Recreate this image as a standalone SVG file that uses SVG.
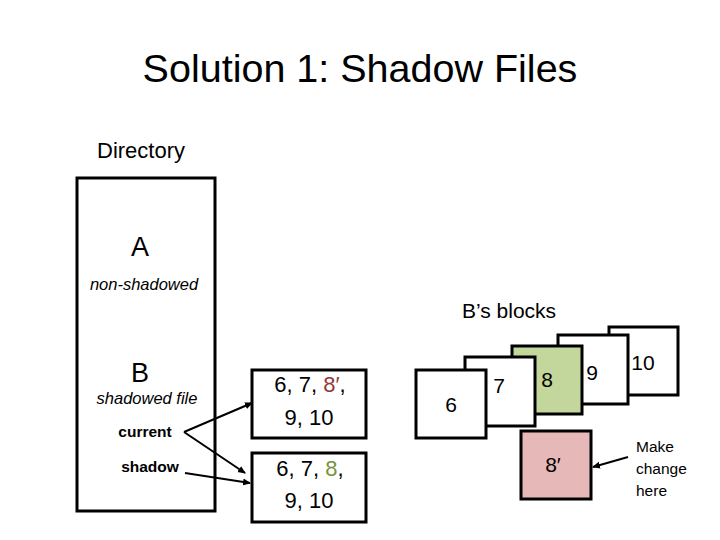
<svg xmlns="http://www.w3.org/2000/svg" width="720" height="540" viewBox="0 0 720 540">
<style>
text{font-family:"Liberation Sans",Arial,sans-serif;fill:#000}
.box{fill:#fff;stroke:#000;stroke-width:3}
.c{text-anchor:middle}
.it{font-style:italic;font-size:16.5px}
.bd{font-weight:bold;font-size:15.5px}
.lbl{font-size:22px}
.blk{font-size:21px;text-anchor:middle}
.nt{font-size:15.5px}
.ln{stroke:#000;stroke-width:2;fill:none;marker-end:url(#ah)}
</style>
<defs>
<marker id="ah" markerWidth="8" markerHeight="8" refX="7" refY="4" orient="auto" markerUnits="userSpaceOnUse">
<path d="M0,0.5 L8,4 L0,7.5 z" fill="#000"/>
</marker>
</defs>
<rect width="720" height="540" fill="#fff"/>
<text x="360" y="82" class="c" font-size="39.5">Solution 1: Shadow Files</text>
<g id="directory">
<text x="97" y="158" font-size="22">Directory</text>
<rect class="box" x="77" y="178" width="138" height="333"/>
<text x="140" y="256" class="c" font-size="27">A</text>
<text x="144" y="290" class="c it">non-shadowed</text>
<text x="140" y="382" class="c" font-size="27">B</text>
<text x="147" y="404" class="c it">shadowed file</text>
<text x="145" y="437" class="c bd">current</text>
<text x="150" y="472" class="c bd">shadow</text>
</g>
<g id="current-list">
<rect class="box" x="252" y="370" width="114" height="68"/>
<text x="310" y="392" class="c lbl">6, 7, <tspan fill="#953735">8′</tspan>,</text>
<text x="309" y="425" class="c lbl">9, 10</text>
</g>
<g id="shadow-list">
<rect class="box" x="252" y="453" width="114" height="69"/>
<text x="310" y="476" class="c lbl">6, 7, <tspan fill="#77933c">8</tspan>,</text>
<text x="309" y="508" class="c lbl">9, 10</text>
</g>
<text x="509" y="318" class="c" font-size="21">B’s blocks</text>
<g id="block10"><rect class="box" x="609" y="327" width="69" height="68"/><text x="643" y="370" class="blk">10</text></g>
<g id="block9"><rect class="box" x="558" y="335" width="70" height="69"/><text x="592" y="380" class="blk">9</text></g>
<g id="block8"><rect class="box" x="512" y="346" width="70" height="68" style="fill:#c3d69b"/><text x="547" y="387" class="blk">8</text></g>
<g id="block7"><rect class="box" x="465" y="357" width="70" height="69"/><text x="499" y="393" class="blk">7</text></g>
<g id="block6"><rect class="box" x="416" y="370" width="70" height="68"/><text x="451" y="412" class="blk">6</text></g>
<g id="block8p"><rect class="box" x="521" y="431" width="70" height="68" style="fill:#e6b9b8"/><text x="553" y="472" class="blk">8′</text></g>
<g id="note">
<text x="636" y="452" class="nt">Make</text>
<text x="636" y="474" class="nt">change</text>
<text x="636" y="496" class="nt">here</text>
</g>
<g id="connectors">
<line class="ln" x1="184" y1="432" x2="252" y2="403"/>
<line class="ln" x1="184" y1="432" x2="245" y2="473"/>
<line class="ln" x1="185" y1="473" x2="250" y2="483"/>
<line class="ln" x1="628" y1="457" x2="593" y2="467"/>
</g>
</svg>
